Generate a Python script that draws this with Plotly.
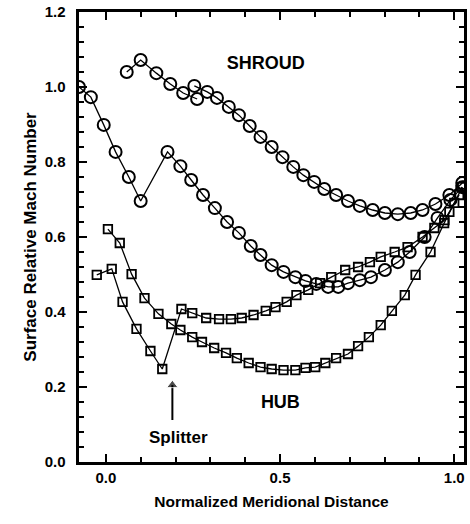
import plotly.graph_objects as go

# Shroud, circles: upper branch near the inducer
shroud_a_x = [0.06, 0.10, 0.145, 0.185, 0.222, 0.262]
shroud_a_y = [1.04, 1.072, 1.037, 1.008, 0.984, 0.968]

# Shroud, circles: upper branch (continues to exit)
shroud_b_x = [0.254, 0.291, 0.319, 0.353, 0.382, 0.413, 0.444, 0.476, 0.507, 0.538,
              0.567, 0.598, 0.627, 0.661, 0.695, 0.729, 0.766, 0.801, 0.838, 0.875,
              0.909, 0.946, 0.986, 1.023]
shroud_b_y = [1.003, 0.987, 0.971, 0.947, 0.925, 0.896, 0.867, 0.840, 0.813, 0.787,
              0.765, 0.747, 0.728, 0.712, 0.696, 0.683, 0.672, 0.664, 0.661, 0.664,
              0.672, 0.688, 0.712, 0.744]

# Shroud, circles: lower branch with splitter jump
shroud_c_x = [-0.077, -0.043, -0.006, 0.028, 0.066, 0.100, 0.177, 0.214, 0.245, 0.279,
              0.313, 0.348, 0.382, 0.416, 0.444, 0.476, 0.510, 0.544, 0.573, 0.604,
              0.638, 0.667, 0.695, 0.729, 0.761, 0.801, 0.838, 0.872, 0.915, 0.952,
              0.989, 1.023]
shroud_c_y = [1.000, 0.973, 0.899, 0.827, 0.760, 0.696, 0.827, 0.789, 0.752, 0.712,
              0.677, 0.640, 0.611, 0.576, 0.552, 0.525, 0.507, 0.493, 0.483, 0.475,
              0.467, 0.467, 0.477, 0.485, 0.493, 0.512, 0.533, 0.560, 0.600, 0.651,
              0.699, 0.733]

# Hub, squares: smooth branch
hub_a_x = [0.006, 0.040, 0.074, 0.111, 0.151, 0.188, 0.214, 0.248, 0.276, 0.311,
           0.345, 0.376, 0.410, 0.444, 0.476, 0.510, 0.544, 0.573, 0.601, 0.630,
           0.661, 0.695, 0.724, 0.755, 0.789, 0.821, 0.858, 0.889, 0.932, 0.971,
           1.000, 1.023]
hub_a_y = [0.621, 0.584, 0.501, 0.437, 0.395, 0.368, 0.352, 0.333, 0.320, 0.304,
           0.291, 0.277, 0.264, 0.253, 0.248, 0.245, 0.245, 0.251, 0.253, 0.264,
           0.277, 0.288, 0.309, 0.333, 0.365, 0.403, 0.445, 0.499, 0.560, 0.637,
           0.691, 0.733]

# Hub, squares: branch with splitter jump
hub_b_x = [-0.026, 0.017, 0.048, 0.088, 0.128, 0.162, 0.217, 0.248, 0.288, 0.325,
           0.359, 0.390, 0.424, 0.459, 0.487, 0.519, 0.547, 0.581, 0.615, 0.647,
           0.687, 0.724, 0.758, 0.789, 0.829, 0.866, 0.909, 0.943, 0.972, 0.986,
           1.014]
hub_b_y = [0.499, 0.515, 0.427, 0.355, 0.296, 0.248, 0.408, 0.397, 0.384, 0.381,
           0.381, 0.384, 0.392, 0.403, 0.413, 0.427, 0.445, 0.459, 0.477, 0.493,
           0.512, 0.520, 0.533, 0.547, 0.560, 0.573, 0.600, 0.624, 0.645, 0.667,
           0.712]

# Axis tick positions and labels
x_tick_vals = [0.0, 0.5, 1.0]
x_tick_text = ["0.0", "0.5", "1.0"]
y_tick_vals = [0.0, 0.2, 0.4, 0.6, 0.8, 1.0, 1.2]
y_tick_text = ["0.0", "0.2", "0.4", "0.6", "0.8", "1.0", "1.2"]

# In-plot labels and the splitter arrow
label_text = ["SHROUD", "HUB", "Splitter"]
label_x = [0.459, 0.501, 0.208]
label_y = [1.061, 0.157, 0.061]
label_size = [18, 18, 17]
arrow_x = [0.191, 0.191]
arrow_y = [0.112, 0.205]

X_RANGE = [-0.077, 1.028]
Y_RANGE = [0, 1.2]
FONT = "Liberation Sans, Arial, sans-serif"

line_style = dict(color="black", width=1.3)
circle = dict(symbol="circle-open", size=12, color="black",
              line=dict(color="black", width=2))
square = dict(symbol="square-open", size=8.5, color="black",
              line=dict(color="black", width=1.8))

fig = go.Figure()
for xs, ys, mk in [
    (shroud_a_x, shroud_a_y, circle),
    (shroud_b_x, shroud_b_y, circle),
    (shroud_c_x, shroud_c_y, circle),
    (hub_a_x, hub_a_y, square),
]:
    fig.add_trace(go.Scatter(x=xs, y=ys, mode="lines+markers",
                             line=line_style, marker=mk,
                             showlegend=False, hoverinfo="skip"))

# This curve sits on the overlay axes that carry the tick frame
fig.add_trace(go.Scatter(x=hub_b_x, y=hub_b_y, mode="lines+markers",
                         line=line_style, marker=square, xaxis="x2", yaxis="y2",
                         showlegend=False, hoverinfo="skip"))

# Labels drawn as text marks
for txt, lx, ly, sz in zip(label_text, label_x, label_y, label_size):
    fig.add_trace(go.Scatter(x=[lx], y=[ly], mode="text",
                             text=["<b>" + txt + "</b>"],
                             textfont=dict(family=FONT, size=sz, color="black"),
                             showlegend=False, hoverinfo="skip"))

# Splitter arrow: shaft plus head
fig.add_trace(go.Scatter(x=arrow_x, y=arrow_y, mode="lines+markers",
                         line=dict(color="black", width=2),
                         marker=dict(symbol=["circle", "triangle-up"],
                                     size=[0, 10], color="black"),
                         showlegend=False, hoverinfo="skip"))


def bold(s):
    return "<b>" + s + "</b>"


fig.update_layout(
    width=470, height=524,
    margin=dict(l=79, r=3, t=12, b=62),
    paper_bgcolor="white", plot_bgcolor="white",
    xaxis=dict(
        range=X_RANGE, tickmode="array", tickvals=x_tick_vals,
        ticktext=[bold(t) for t in x_tick_text],
        showline=True, linecolor="black", linewidth=3, mirror=True,
        ticks="", showgrid=False, zeroline=False,
        tickfont=dict(family=FONT, size=15, color="black"),
        title=dict(text=bold("Normalized Meridional Distance"), standoff=12,
                   font=dict(family=FONT, size=15.5, color="black")),
    ),
    yaxis=dict(
        range=Y_RANGE, tickmode="array", tickvals=y_tick_vals,
        ticktext=[bold(t) + "\u2002" for t in y_tick_text],
        showline=True, linecolor="black", linewidth=3, mirror=True,
        ticks="", showgrid=False, zeroline=False,
        tickfont=dict(family=FONT, size=15, color="black"),
        title=dict(text=bold("Surface Relative Mach Number"), standoff=4,
                   font=dict(family=FONT, size=17, color="black")),
    ),
    # Overlay axes: inward major and minor ticks on all four sides
    xaxis2=dict(
        overlaying="x", anchor="y2", range=X_RANGE,
        dtick=0.5, tick0=0, showticklabels=False,
        showline=True, linecolor="black", linewidth=3, mirror="ticks",
        ticks="inside", ticklen=8, tickwidth=2, tickcolor="black",
        minor=dict(dtick=0.1, ticks="inside", ticklen=5, tickcolor="black"),
    ),
    yaxis2=dict(
        overlaying="y", anchor="x2", range=Y_RANGE,
        dtick=0.2, tick0=0, showticklabels=False,
        showline=True, linecolor="black", linewidth=3, mirror="ticks",
        ticks="inside", ticklen=8, tickwidth=2, tickcolor="black",
        minor=dict(dtick=0.04, ticks="inside", ticklen=5, tickcolor="black"),
    ),
)

fig.write_html("out.html")
